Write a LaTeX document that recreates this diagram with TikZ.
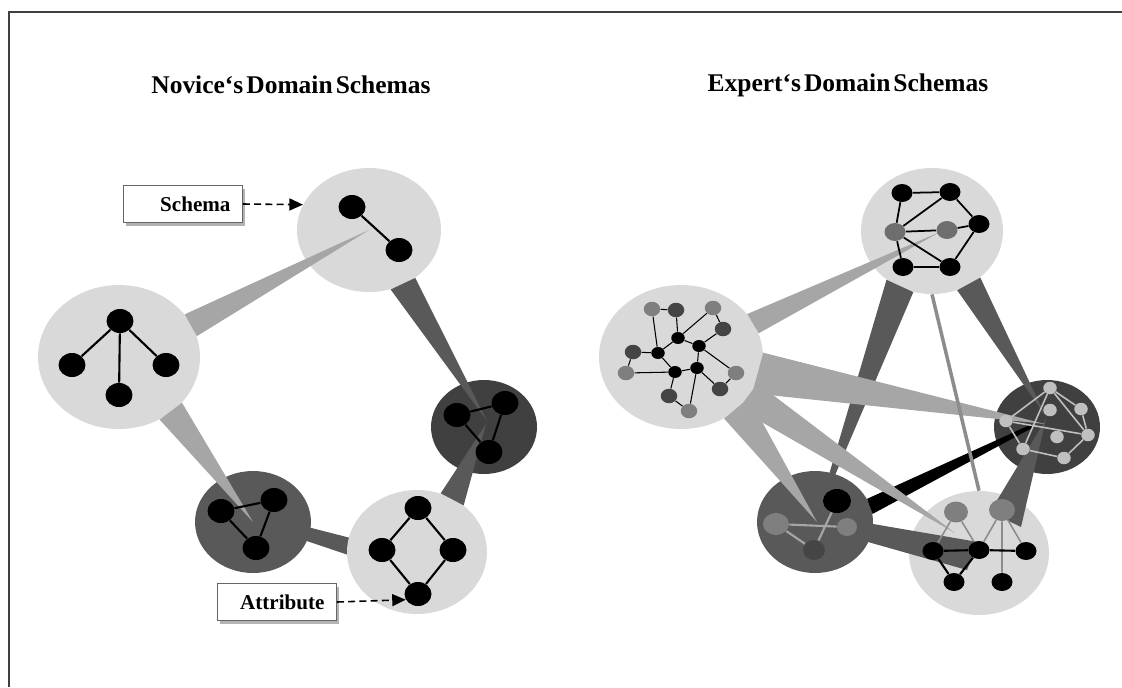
\documentclass[tikz,border=0pt]{standalone}
\usepackage{fontspec}
\setmainfont{Liberation Serif}
\usetikzlibrary{calc,arrows.meta,shapes.geometric,shadows,backgrounds}
\definecolor{schemalight}{HTML}{D9D9D9}
\definecolor{schemamid}{HTML}{595959}
\definecolor{schemadark}{HTML}{404040}
\definecolor{wedgelight}{HTML}{A6A6A6}
\definecolor{wedgedark}{HTML}{595959}
\definecolor{attrgrey}{HTML}{7F7F7F}
\definecolor{attrdark}{HTML}{454545}
\definecolor{attrpale}{HTML}{C0C0C0}
\definecolor{linkgrey}{HTML}{8C8C8C}
\newcommand{\titlefont}{\fontsize{14.5}{17}\selectfont\bfseries\spaceskip=0.12em\relax}

\begin{document}
\begin{tikzpicture}[x={(0.02cm,0cm)},y={(0cm,-0.02cm)},
  >={Triangle[length=0.27cm,width=0.24cm]},
  blob/.style 2 args={ellipse,inner sep=0pt,minimum width=#1,minimum height=#2},
  attr/.style={blob={0.54cm}{0.48cm},fill=black},
  smallattr/.style={blob={0.42cm}{0.36cm},fill=black},
  tinyattr/.style={blob={0.27cm}{0.24cm},fill=black},
  link/.style={line width=1.2pt},
  thinlink/.style={line width=0.6pt},
  lightwedge/.style={fill=wedgelight},
  darkwedge/.style={fill=wedgedark},
  pointer/.style={->,line width=0.9pt,dash pattern=on 4pt off 2.4pt},
  labelbox/.style={draw=black!60,fill=white,line width=0.5pt,text width=1.9cm,align=right,
    inner xsep=0.24cm,minimum height=0.74cm,font=\fontsize{12}{14}\selectfont\bfseries,
    drop shadow={shadow xshift=1.5pt,shadow yshift=-2pt,fill=black!50,opacity=0.6}},
  title/.style={font=\titlefont}]
  \useasboundingbox (0,0) rectangle (1122,687);
  \draw[black!75,line width=0.8pt] (9,687) -- (9,12) -- (1122,12);

  \node[title] (noviceTitle) at (291,85) {Novice‘s Domain Schemas};
  \node[title] (expertTitle) at (848,85) {Expert‘s Domain Schemas};

  % novice schemas
  \node[blob={2.88cm}{2.48cm},fill=schemalight] (nT) at (369,230) {};
  \node[blob={3.24cm}{2.88cm},fill=schemalight] (nL) at (119,357) {};
  \node[blob={2.12cm}{1.88cm},fill=schemadark] (nR) at (484,427) {};
  \node[blob={2.32cm}{2.04cm},fill=schemamid] (nD) at (253,522) {};
  \node[blob={2.80cm}{2.48cm},fill=schemalight] (nB) at (417,552) {};
  \begin{scope}[on background layer]
    \fill[darkwedge] ($(nD.center)+(0,-9)$) -- ($(nB.center)+(0,3)$) -- ($(nB.center)+(0,26)$) -- ($(nD.center)+(0,1)$) -- cycle;
  \end{scope}
  % novice links between schemas
  \fill[lightwedge] (nL.15) -- (nL.33) -- (nT.center) -- cycle;
  \fill[darkwedge] (nT.-70) -- (nT.-46) -- ($(nR.center)+(3,-6)$) -- cycle;
  \fill[lightwedge] (nL.-57) -- (nL.-36) -- (nD.center) -- cycle;
  \fill[darkwedge] (nB.68) -- (nB.45) -- ($(nR.center)+(2,-3)$) -- cycle;
  % novice attributes
  \node[attr] (t1) at (352,207) {};
  \node[attr] (t2) at (399,250) {};
  \draw[link] (t1) -- (t2);
  \node[attr] (l1) at (120,321) {};
  \node[attr] (l2) at (72,365) {};
  \node[attr] (l3) at (166,365) {};
  \node[attr] (l4) at (119,395) {};
  \draw[link] (l1) -- (l2) (l1) -- (l3) (l1) -- (l4);
  \node[attr] (r1) at (457,415) {};
  \node[attr] (r2) at (505,403) {};
  \node[attr] (r3) at (489,452) {};
  \draw[link] (r1) -- (r2) -- (r3) -- (r1);
  \node[attr] (d1) at (221,511) {};
  \node[attr] (d2) at (274,500) {};
  \node[attr] (d3) at (256,548) {};
  \draw[link] (d1) -- (d2) -- (d3) -- (d1);
  \node[attr] (b1) at (418,508) {};
  \node[attr] (b2) at (382,550) {};
  \node[attr] (b3) at (453,550) {};
  \node[attr] (b4) at (418,594) {};
  \draw[link] (b1) -- (b2) -- (b4) -- (b3) -- (b1);
  % captions
  \node[labelbox] (schemaLbl) at (183,204) {Schema};
  \draw[pointer] (schemaLbl.east) -- (nT.159);
  \node[labelbox] (attrLbl) at (277,602) {Attribute};
  \draw[pointer] (attrLbl.east) -- (b4.205);

  % expert schemas
  \node[blob={2.84cm}{2.52cm},fill=schemalight] (eT) at (932,231) {};
  \node[blob={3.28cm}{2.88cm},fill=schemalight] (eL) at (681,357) {};
  \node[blob={2.12cm}{1.88cm},fill=schemadark] (eR) at (1047,427) {};
  \node[blob={2.32cm}{2.04cm},fill=schemamid] (eD) at (815,522) {};
  \node[blob={2.80cm}{2.48cm},fill=schemalight] (eB) at (979,553) {};
  % expert links between schemas
  \fill[darkwedge] (eT.-67) -- (eT.-44) -- ($(eR.center)+(-2,-12)$) -- cycle;
  \fill[darkwedge] (eT.-133) -- (eT.-107) -- (eD.center) -- cycle;
  \fill[darkwedge] ($(eB.center)+(11,-41)$) -- ($(eB.center)+(42,-26)$) -- ($(eR.center)+(-1,-8)$) -- cycle;
  \fill[darkwedge] ($(eD.center)+(0,-8)$) -- ($(eB.center)+(-1,-11)$) -- ($(eB.center)+(-12,17)$) -- ($(eD.center)+(0,5)$) -- cycle;
  \fill[black] (eD.8) -- (eD.24) -- ($(eR.center)+(-15,-3)$) -- ($(eR.center)+(-15,1)$) -- cycle;
  \fill[lightwedge] (eL.17) -- (eL.33) -- ($(eT.center)+(8,1)$) -- cycle;
  \fill[lightwedge] (eL.3) -- (eL.-27) -- ($(eR.center)+(-2,-3)$) -- cycle;
  \fill[lightwedge] (eL.-19) -- (eL.-42) -- ($(eB.center)+(-24,-20)$) -- cycle;
  \fill[lightwedge] (eL.-31) -- (eL.-55) -- ($(eD.center)+(2,0)$) -- cycle;
  \draw[linkgrey,line width=2pt] (eT.south) -- (eB.north);
  % top expert schema
  \node[smallattr] (p1) at (902,193) {};
  \node[smallattr] (p2) at (950,192) {};
  \node[smallattr] (p3) at (979,224) {};
  \node[smallattr] (p4) at (950,267) {};
  \node[smallattr] (p5) at (903,267) {};
  \node[smallattr,fill=black!57] (p6) at (895,232) {};
  \node[smallattr,fill=black!57] (p7) at (947,230) {};
  \draw[line width=1pt] (p1) -- (p2) -- (p3) -- (p4) -- (p5) -- (p6) -- (p1)
    (p6) -- (p2) (p6) -- (p7) -- (p3) (p6) -- (p4);
  % left expert schema
  \foreach \nm/\px/\py/\col in {ka/652/309/attrgrey,kb/676/310/attrdark,kc/713/308/attrgrey,
      kd/723/329/attrdark,kh/633/352/attrdark,ki/626/373/attrgrey,kl/736/373/attrgrey,
      km/720/389/attrdark,kn/669/396/attrdark,ko/689/411/attrgrey}
    \node[blob={0.33cm}{0.29cm},fill=\col] (\nm) at (\px,\py) {};
  \foreach \nm/\px/\py in {ke/678/338,kf/699/346,kg/658/353,kj/675/372,kk/697/368}
    \node[tinyattr] (\nm) at (\px,\py) {};
  \foreach \a/\b in {ka/kb,ka/kg,kb/ke,kc/ke,kc/kd,kd/kf,ke/kf,ke/kg,kg/kh,kh/ki,
      kg/kj,ki/kj,kj/kk,kf/kk,kf/kl,kl/km,kk/km,kj/kn,kn/ko,kk/ko}
    \draw[thinlink] (\a) -- (\b);
  % right expert schema
  \foreach \nm/\px/\py in {q1/1050/388,q2/1081/409,q3/1050/410,q4/1006/421,
      q5/1088/435,q6/1057/437,q7/1023/449,q8/1064/458}
    \node[blob={0.27cm}{0.25cm},fill=attrpale] (\nm) at (\px,\py) {};
  \foreach \a/\b in {q1/q4,q1/q2,q1/q7,q1/q5,q2/q5,q5/q8,q8/q7,q7/q4,q4/q5}
    \draw[attrpale,line width=0.9pt] (\a) -- (\b);
  % lower left expert schema
  \node[blob={0.56cm}{0.48cm},fill=black] (m1) at (837,501) {};
  \node[blob={0.52cm}{0.44cm},fill=attrgrey] (m2) at (776,524) {};
  \node[blob={0.40cm}{0.36cm},fill=attrgrey] (m3) at (847,527) {};
  \node[blob={0.44cm}{0.40cm},fill=attrdark] (m4) at (814,550) {};
  \draw[wedgelight,line width=1.2pt] (m2) -- (m3) (m2) -- (m4) (m1) -- (m4);
  % lower right expert schema
  \node[blob={0.48cm}{0.42cm},fill=attrgrey] (s1) at (956,512) {};
  \node[blob={0.52cm}{0.44cm},fill=attrgrey] (s2) at (1002,510) {};
  \node[smallattr] (c1) at (933,551) {};
  \node[smallattr] (c2) at (979,550) {};
  \node[smallattr] (c3) at (1026,551) {};
  \node[smallattr] (c4) at (954,582) {};
  \node[smallattr] (c5) at (1002,582) {};
  \draw[linkgrey,line width=0.9pt] (s1) -- (c1) (s1) -- (c2) (s2) -- (c2) (s2) -- (c5) (s2) -- (c3);
  \draw[line width=1.2pt] (c1) -- (c2) -- (c3) (c1) -- (c4) -- (c2);
\end{tikzpicture}
\end{document}
